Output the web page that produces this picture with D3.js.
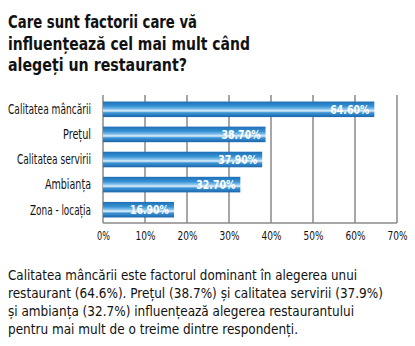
<!DOCTYPE html>
<html>
<head>
<meta charset="utf-8">
<script src="https://cdn.jsdelivr.net/npm/d3@7/dist/d3.min.js"></script>
<style>
  html, body { margin: 0; padding: 0; background: #fff; }
  svg { display: block; }
  .cond { font-family: "DejaVu Sans Condensed", "DejaVu Sans", sans-serif; font-stretch: condensed; }
</style>
</head>
<body>
<script>
// Survey: factors that most influence choosing a restaurant
const categories = ["Calitatea mâncării", "Prețul", "Calitatea servirii", "Ambianța", "Zona - locația"];
const values = [64.6, 38.7, 37.9, 32.7, 16.9];
const valueLabels = ["64.60%", "38.70%", "37.90%", "32.70%", "16.90%"];
const tickValues = [0, 10, 20, 30, 40, 50, 60, 70];
const titleLines = ["Care sunt factorii care vă", "influențează cel mai mult când", "alegeți un restaurant?"];
const noteLines = [
  "Calitatea mâncării este factorul dominant în alegerea unui",
  "restaurant (64.6%). Prețul (38.7%) și calitatea servirii (37.9%)",
  "și ambianța (32.7%) influențează alegerea restaurantului",
  "pentru mai mult de o treime dintre respondenți."
];

const W = 415, H = 346;
const svg = d3.select("body").append("svg").attr("width", W).attr("height", H);

// squeeze a text selection to a fixed width when it is wider than that
function fitWidth(sel, widthFn) {
  sel.each(function (d, i) {
    const w = widthFn(d, i);
    const natural = this.getComputedTextLength();
    if (natural > w) {
      d3.select(this).attr("textLength", w).attr("lengthAdjust", "spacingAndGlyphs");
    }
  });
}

// gradient for the bars: dark blue edges with a pale highlight stripe
const defs = svg.append("defs");
const grad = defs.append("linearGradient").attr("id", "barGrad")
  .attr("x1", 0).attr("y1", 0).attr("x2", 0).attr("y2", 1);
[[0, "#1f6fb6"], [0.3, "#3591d4"], [0.5, "#8cc6ee"], [0.6, "#e4f2fc"], [0.72, "#3c95d6"], [1, "#1a65ab"]]
  .forEach(([o, c]) => grad.append("stop").attr("offset", o).attr("stop-color", c));

// title
const titleW = [189, 242, 179];
svg.append("g").selectAll("text").data(titleLines).join("text")
  .attr("class", "cond")
  .attr("x", 8).attr("y", (d, i) => 28 + i * 21.5)
  .attr("font-size", 18.3).attr("font-weight", "bold").attr("fill", "#111")
  .attr("textLength", (d, i) => titleW[i]).attr("lengthAdjust", "spacingAndGlyphs")
  .text(d => d);

// plot scales
const x = d3.scaleLinear().domain([0, 70]).range([103, 397]);
const y = d3.scaleBand().domain(categories).range([96, 223]).paddingInner(0.38).paddingOuter(0.22);

// vertical grid lines
svg.append("g").selectAll("line").data(tickValues).join("line")
  .attr("x1", d => x(d)).attr("x2", d => x(d))
  .attr("y1", 95).attr("y2", 223)
  .attr("stroke", "#8a8a8a").attr("stroke-width", 1.5);

// baseline
svg.append("line").attr("x1", x(0)).attr("x2", x(70))
  .attr("y1", 223).attr("y2", 223).attr("stroke", "#8a8a8a").attr("stroke-width", 1.5);

// bars
svg.append("g").selectAll("rect").data(values).join("rect")
  .attr("x", x(0)).attr("y", (d, i) => y(categories[i]))
  .attr("width", d => x(d) - x(0)).attr("height", y.bandwidth())
  .attr("fill", "url(#barGrad)");

// value labels inside bar ends
svg.append("g").selectAll("text").data(values).join("text")
  .attr("class", "cond")
  .attr("x", d => x(d) - 5)
  .attr("y", (d, i) => y(categories[i]) + y.bandwidth() / 2)
  .attr("dy", "0.36em").attr("text-anchor", "end")
  .attr("font-size", 13).attr("font-weight", "bold").attr("fill", "#fff")
  .text((d, i) => valueLabels[i])
  .call(fitWidth, () => 39);

// category labels
const catW = [83, 28, 74, 46, 61];
svg.append("g").selectAll("text").data(categories).join("text")
  .attr("class", "cond")
  .attr("x", 91).attr("y", d => y(d) + y.bandwidth() / 2)
  .attr("dy", "0.36em").attr("text-anchor", "end")
  .attr("font-size", 13.5).attr("fill", "#111")
  .text(d => d)
  .call(fitWidth, (d, i) => catW[i]);

// x axis tick labels
const axis = d3.axisBottom(x).tickValues(tickValues).tickSize(0).tickPadding(0)
  .tickFormat(d => d + "%");
const ax = svg.append("g").attr("transform", "translate(0,231)").call(axis);
ax.select(".domain").remove();
ax.selectAll("text").attr("class", "cond").attr("font-size", 13).attr("fill", "#111")
  .attr("font-family", null).attr("dy", "0.71em")
  .call(fitWidth, d => (d === 0 ? 13 : 20));

// explanatory note
const noteW = [349, 375, 346, 290];
svg.append("g").selectAll("text").data(noteLines).join("text")
  .attr("class", "cond")
  .attr("x", 8).attr("y", (d, i) => 280 + i * 18)
  .attr("font-size", 14.2).attr("fill", "#111")
  .text(d => d)
  .call(fitWidth, (d, i) => noteW[i]);
</script>
</body>
</html>
